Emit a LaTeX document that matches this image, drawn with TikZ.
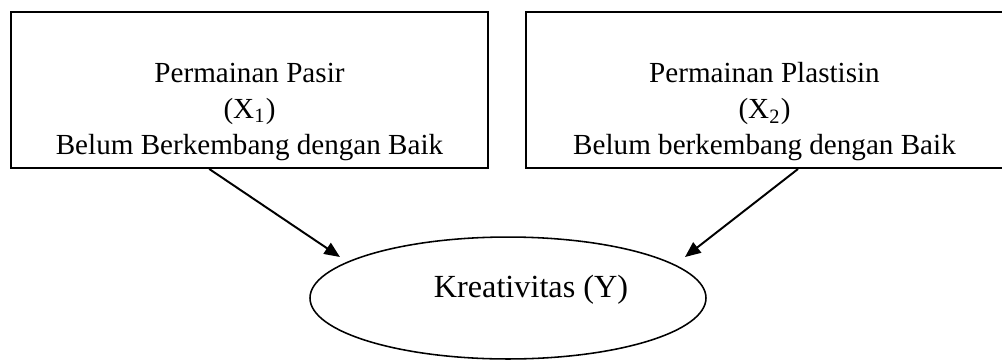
\documentclass[tikz,border=0pt]{standalone}
\usepackage{fontspec}
\setmainfont{Liberation Serif}
\usetikzlibrary{shapes.geometric,arrows.meta}
\begin{document}
\begin{tikzpicture}[line cap=butt,line join=miter,x=0.3846pt,y=-0.3846pt,font=\fontsize{11.2}{13.85}\selectfont]
			\tikzset{kotak/.style={draw,line width=0.75pt,minimum width=183.5pt,minimum height=60pt,inner sep=0pt},
				teks/.style={align=center,inner sep=0pt},
				panah/.style={line width=0.75pt,-{Triangle[length=6pt,width=5pt]}}}
			\useasboundingbox (0,0) rectangle (1002,360);
			\node[kotak] (boxA) at (249.5,90) {}; % Kotak X1
			\node[kotak] (boxB) at (764.5,90) {}; % Kotak X2
			\node[teks] (txtA) at (249.5,112) {Permainan Pasir\\(X\textsubscript{1})\\Belum Berkembang dengan Baik};
			\node[teks] (txtB) at (764.5,112) {Permainan Plastisin\\(X\textsubscript{2})\\Belum berkembang dengan Baik};
			\node[draw,ellipse,line width=0.6pt,minimum width=152.3pt,minimum height=46.9pt] (kreat) at (508,298) {};
			\node[teks,font=\fontsize{12.4}{14}\selectfont] (txtY) at (531,290) {Kreativitas (Y)};
			\coordinate (tipA) at (340,257);
			\coordinate (tipB) at (685,257);
			\foreach \s/\t in {boxA.243/tipA,boxB.293/tipB}{
				\draw[panah] (\s)--(\t);}
		\end{tikzpicture}
\end{document}
